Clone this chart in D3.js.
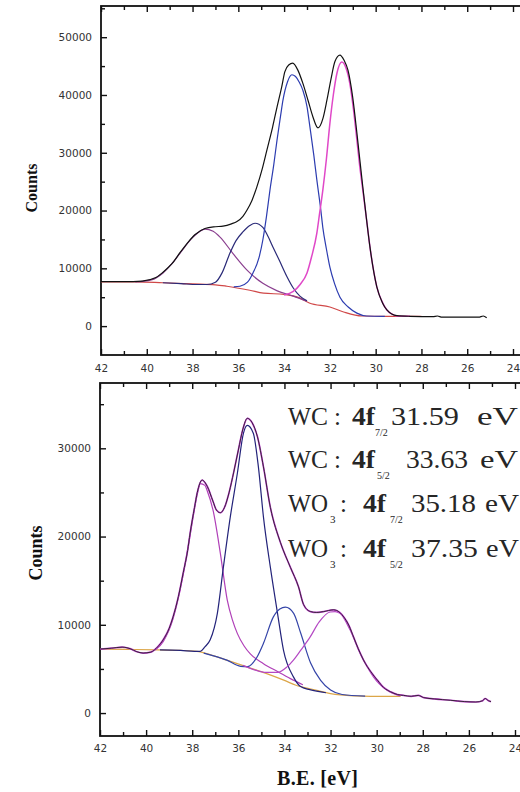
<!DOCTYPE html>
<html>
<head>
<meta charset="utf-8">
<script src="https://cdn.jsdelivr.net/npm/d3@7"></script>
<style>
  body { margin: 0; background: #fff; }
  svg { display: block; }
</style>
</head>
<body>
<div id="chart"></div>
<script>
// ---- data: [binding energy (eV), counts] ----
const beMajor = [42, 40, 38, 36, 34, 32, 30, 28, 26, 24];
const beMinor = [41, 39, 37, 35, 33, 31, 29, 27, 25, 23];

// upper spectrum
const topYMajor = [0, 10000, 20000, 30000, 40000, 50000];
const topYMinor = [5000, 15000, 25000, 35000, 45000, 55000];

const topBackground = [[42,7650],[40.5,7650],[39.3,7500],[38,7300],[37,7150],[36.5,6900],[35.5,6200],[34.9,5700],[34,5500],[33.3,4850],[32.9,4000],[32,3300],[31.4,2450],[30.6,1750],[29.5,1700],[28,1700]];
const topEnvelope = [[42,7700],[41,7700],[40.2,7800],[39.6,8400],[39.3,9300],[38.9,10800],[38.55,12700],[38.2,14500],[37.9,15800],[37.46,16900],[37,17200],[36.67,17300],[36.3,17700],[36.06,18100],[35.8,19000],[35.62,20100],[35.4,21800],[35.19,24100],[34.95,27300],[34.75,30500],[34.5,34500],[34.31,37900],[34.1,41500],[33.97,44000],[33.8,45200],[33.62,45500],[33.4,44300],[33.18,42000],[32.95,39000],[32.74,36200],[32.52,34300],[32.3,36000],[32.13,39100],[31.95,42800],[31.78,45800],[31.56,46900],[31.38,46000],[31.21,44300],[31,39500],[30.82,33400],[30.56,24000],[30.4,18500],[30.25,13700],[29.95,6800],[29.7,4000],[29.51,2800],[29.07,1800],[28.5,1700],[27.5,1650],[27.3,1750],[27.1,1550],[26,1550],[25.5,1550],[25.3,1750],[25.15,1450]];
const topWO3_52 = [[40.5,7650],[39.8,8000],[39.29,9200],[38.9,10800],[38.55,12600],[37.98,15400],[37.46,16800],[37.1,16400],[36.8,15400],[36.24,12600],[35.62,9700],[34.93,7400],[34.3,6100],[33.6,5200],[33,4300]];
const topWO3_72 = [[39.3,7500],[38.5,7350],[37.8,7200],[37.37,7200],[37,7600],[36.7,9300],[36.37,12600],[36.1,14800],[35.8,16300],[35.5,17400],[35.27,17800],[34.93,17100],[34.7,15500],[34.49,13700],[34.2,11300],[33.88,8600],[33.6,6600],[33.31,5200],[33,4400]];
const topWC_52 = [[36.2,6800],[35.93,6900],[35.6,7600],[35.36,9200],[35.1,11800],[34.93,14900],[34.77,19000],[34.62,23500],[34.45,28000],[34.31,32200],[34.15,36500],[34.05,39100],[33.85,42300],[33.66,43500],[33.5,43200],[33.35,42300],[33.18,40800],[33,38000],[32.87,34400],[32.7,29500],[32.57,25300],[32.4,20200],[32.31,17100],[32.15,13300],[32,10200],[31.8,7400],[31.56,5000],[31.2,3300],[30.82,2250],[30.4,1750],[29.6,1700]];
const topWC_72 = [[34,5400],[33.6,6000],[33.3,7200],[33,9200],[32.8,12000],[32.57,16100],[32.45,19500],[32.31,23500],[32.15,29000],[32,35100],[31.85,40000],[31.69,43800],[31.48,45700],[31.3,44700],[31.13,42000],[30.97,37500],[30.82,32200],[30.7,27800],[30.56,23500],[30.4,18500],[30.25,13700],[30.1,9800],[29.95,6800],[29.75,4500],[29.51,2800],[29.3,2100],[29.07,1750],[28.5,1700]];

// lower spectrum
const botYMajor = [0, 10000, 20000, 30000];
const botYMinor = [5000, 15000, 25000, 35000];

const botBackground = [[42,7250],[40.5,7200],[39.5,7150],[38.5,7100],[37.8,7000],[37.2,6600],[36.5,6000],[35.6,5200],[34.8,4500],[34,3700],[33.5,3150],[32.8,2700],[32,2200],[31,1950],[30.26,1900],[29.5,1900],[28.96,1900]];
const botEnvelope = [[42,7250],[41.5,7350],[41.04,7470],[40.7,7300],[40.4,6950],[40.13,6800],[39.8,6900],[39.5,7500],[39.26,8300],[39,9600],[38.83,10900],[38.6,13200],[38.39,15900],[38.2,18400],[38.09,20400],[37.9,23300],[37.78,25000],[37.57,26400],[37.35,25700],[37.1,24000],[36.95,23000],[36.78,22700],[36.6,23300],[36.4,25000],[36.2,27300],[36,29800],[35.8,32200],[35.61,33400],[35.4,32900],[35.17,31300],[34.91,27900],[34.61,23300],[34.17,19300],[33.74,16500],[33.39,14300],[33.17,12300],[32.87,11500],[32.6,11400],[32.3,11500],[31.87,11700],[31.6,11400],[31.43,10900],[31.2,9900],[31,8600],[30.8,7300],[30.57,6000],[30.26,4700],[29.96,3700],[29.7,2900],[29.39,2400],[29.1,2100],[28.83,2000],[28.5,1900],[28.2,2000],[27.96,1750],[27.5,1600],[26.8,1450],[26.2,1300],[25.7,1250],[25.4,1400],[25.3,1650],[25.15,1400],[25.04,1300]];
const botWO3_52 = [[39.6,7150],[39.26,8100],[38.83,10700],[38.39,15700],[38.09,20200],[37.78,24800],[37.65,26000],[37.45,25800],[37.35,25200],[37.09,22900],[36.78,18100],[36.48,12800],[36.25,10500],[36.04,9000],[35.75,7600],[35.48,6700],[34.91,5600],[34.3,4700],[33.74,3900],[33.2,3200]];
const botWO3_72 = [[39.4,7150],[38.5,7100],[37.9,7000],[37.65,7000],[37.45,7500],[37.22,8300],[36.91,11300],[36.65,16500],[36.35,22200],[36.04,27200],[35.78,31700],[35.61,32600],[35.35,31700],[35.13,27900],[34.91,22200],[34.61,16500],[34.3,11300],[34.04,7100],[33.61,4100],[33.3,3000],[32.9,2650],[32.2,2300]];
const botWC_52 = [[37.5,6800],[36.5,6000],[35.9,5300],[35.6,5250],[35.2,6300],[34.91,7900],[34.48,10900],[34.2,11800],[33.96,12000],[33.6,11300],[33.3,9100],[32.87,5700],[32.43,3700],[32,2600],[31.5,2100],[30.5,1920]];
const botWC_72 = [[35.8,5400],[35.3,4900],[34.8,4600],[34.3,4600],[33.9,5200],[33.61,6000],[33.3,7100],[32.89,8600],[32.5,10300],[32.02,11450],[31.8,11500],[31.59,11300],[31.15,9400],[30.72,6800],[30.4,5200],[30.14,4100],[29.56,2600],[29,1950]];

// peak labels
const peakLabels = [
  { species: "WC", sub: "", level: "7/2", energy: "31.59" },
  { species: "WC", sub: "", level: "5/2", energy: "33.63" },
  { species: "WO", sub: "3", level: "7/2", energy: "35.18" },
  { species: "WO", sub: "3", level: "5/2", energy: "37.35" }
];

const W = 520, H = 792;
const svg = d3.select("#chart").append("svg")
  .attr("width", W)
  .attr("height", H);

const tickFont = "DejaVu Sans, Verdana, sans-serif";
const serif = "Liberation Serif, Times New Roman, serif";

function drawPanel(p) {
  const x = d3.scaleLinear().domain([42, 24]).range([p.left, p.x24]);
  const y = d3.scaleLinear().domain(p.yDomain).range([p.bottom, p.top]);
  const g = svg.append("g");

  const clipId = "clip" + p.id;
  g.append("clipPath").attr("id", clipId)
    .append("rect")
    .attr("x", p.left).attr("y", p.top)
    .attr("width", W - p.left + 10).attr("height", p.bottom - p.top);

  // ticks (pointing inward) and labels
  const bottomMajor = d3.axisBottom(x).tickValues(beMajor).tickSize(-6).tickPadding(p.xPad).tickFormat(d3.format("d"));
  const bottomMinor = d3.axisBottom(x).tickValues(beMinor).tickSize(-4).tickFormat("");
  const topMajor = d3.axisTop(x).tickValues(beMajor).tickSize(-6).tickFormat("");
  const topMinor = d3.axisTop(x).tickValues(beMinor).tickSize(-4).tickFormat("");
  const leftMajor = d3.axisLeft(y).tickValues(p.yMajor).tickSize(-6).tickPadding(9).tickFormat(d3.format("d"));
  const leftMinor = d3.axisLeft(y).tickValues(p.yMinor).tickSize(-4).tickFormat("");

  const axes = [
    [bottomMajor, `translate(0,${p.bottom})`],
    [bottomMinor, `translate(0,${p.bottom})`],
    [topMajor, `translate(0,${p.top})`],
    [topMinor, `translate(0,${p.top})`],
    [leftMajor, `translate(${p.left},0)`],
    [leftMinor, `translate(${p.left},0)`]
  ];
  axes.forEach(([ax, tr]) => {
    const a = g.append("g").attr("transform", tr).call(ax);
    a.select(".domain").remove();
    a.selectAll(".tick line").attr("stroke", "#111").attr("stroke-width", 1.4);
    a.selectAll(".tick text")
      .attr("font-family", tickFont)
      .attr("font-size", 10.5)
      .attr("fill", "#333");
  });

  // frame
  g.append("rect")
    .attr("x", p.left).attr("y", p.top)
    .attr("width", W + 20 - p.left).attr("height", p.bottom - p.top)
    .attr("fill", "none")
    .attr("stroke", "#111")
    .attr("stroke-width", 1.8);

  const line = d3.line()
    .x(d => x(d[0]))
    .y(d => y(d[1]))
    .curve(d3.curveMonotoneX);

  const plot = g.append("g").attr("clip-path", `url(#${clipId})`);
  plot.selectAll("path.curve")
    .data(p.curves)
    .join("path")
    .attr("class", "curve")
    .attr("d", d => line(d.data))
    .attr("fill", "none")
    .attr("stroke", d => d.color)
    .attr("stroke-width", d => d.width || 1.2)
    .attr("stroke-linejoin", "round");

  // y axis title
  g.append("text")
    .attr("transform", `translate(${p.titleX},${p.titleY}) rotate(-90)`)
    .attr("text-anchor", "middle")
    .attr("font-family", serif)
    .attr("font-weight", "bold")
    .attr("font-size", p.titleSize)
    .attr("fill", "#111")
    .text("Counts");

  return { x, y };
}

drawPanel({
  id: "top", left: 101, x24: 513, top: 6, bottom: 355,
  yDomain: [-5000, 55400], yMajor: topYMajor, yMinor: topYMinor, xPad: 10,
  titleX: 37, titleY: 188, titleSize: 16,
  curves: [
    { data: topBackground, color: "#d04848" },
    { data: topWO3_52, color: "#8a3f8f" },
    { data: topWO3_72, color: "#2a2a78" },
    { data: topWC_52, color: "#2c3cb0" },
    { data: topWC_72, color: "#e048c8", width: 1.5 },
    { data: topEnvelope, color: "#111", width: 1.2 }
  ]
});

drawPanel({
  id: "bot", left: 100, x24: 515, top: 383, bottom: 736,
  yDomain: [-2600, 37400], yMajor: botYMajor, yMinor: botYMinor, xPad: 9,
  titleX: 42, titleY: 553, titleSize: 18,
  curves: [
    { data: botBackground, color: "#dca648" },
    { data: botWO3_52, color: "#b040b8" },
    { data: botWO3_72, color: "#23237a" },
    { data: botWC_52, color: "#3444a8" },
    { data: botWC_72, color: "#b448c4" },
    { data: botEnvelope, color: "#c844d8", width: 1.7 },
    { data: botEnvelope, color: "#222", width: 0.9 }
  ]
});

// x axis title
svg.append("text")
  .attr("x", 277).attr("y", 785)
  .attr("font-family", serif)
  .attr("font-weight", "bold")
  .attr("font-size", 20)
  .attr("fill", "#111")
  .attr("textLength", 81)
  .attr("lengthAdjust", "spacing")
  .text("B.E. [eV]");

// text stretched horizontally to a given width (the picture's lettering is wide)
function wideText(parent, str, x, y, size, width, bold) {
  const t = parent.append("text")
    .attr("font-size", size)
    .attr("font-weight", bold ? "bold" : "normal")
    .text(str);
  const natural = t.node().getComputedTextLength();
  const sx = width ? width / natural : 1;
  t.attr("transform", `translate(${x},${y}) scale(${sx},1)`);
  return t;
}

// peak annotations: positions of each piece on a line
const labelRows = [
  { base: 425, level: 352, levelSub: 375, energy: [391, 68], ev: [477, 41] },
  { base: 468, level: 352, levelSub: 377, energy: [406, 62], ev: [480, 38] },
  { base: 512, level: 363, levelSub: 390, energy: [411, 65], ev: [485, 34] },
  { base: 557, level: 363, levelSub: 390, energy: [411, 67], ev: [486, 33] }
];

const ann = svg.append("g")
  .attr("font-family", serif)
  .attr("fill", "#262626");

peakLabels.forEach((d, i) => {
  const r = labelRows[i];
  const row = ann.append("g");
  const isOxide = d.sub !== "";
  wideText(row, "W", 288, r.base, 25, 23);
  wideText(row, isOxide ? "O" : "C", 311, r.base, 25, 17);
  if (isOxide) {
    wideText(row, d.sub, 330, r.base + 11, 11);
  }
  wideText(row, ":", isOxide ? 340 : 334, r.base, 25);
  wideText(row, "4f", r.level, r.base, 25, 23, true);
  wideText(row, d.level, r.levelSub, r.base + 11, 10);
  wideText(row, d.energy, r.energy[0], r.base, 25, r.energy[1]);
  wideText(row, "eV", r.ev[0], r.base, 25, r.ev[1]);
});
</script>
</body>
</html>
